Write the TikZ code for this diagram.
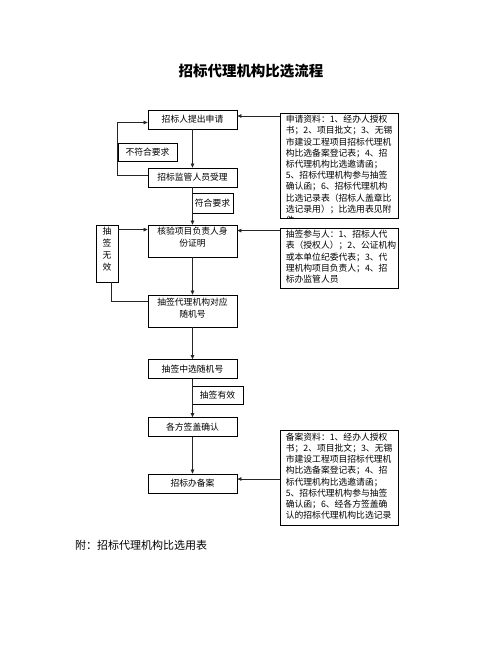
\documentclass[tikz,border=0pt]{standalone}
\usepackage{fontspec}
\setmainfont{Noto Sans CJK SC}
\usetikzlibrary{arrows.meta}
\tikzset{
  cbox/.style={draw=black, line width=0.8pt, minimum width=89pt, minimum height=19pt, inner sep=0pt, font=\fontsize{8.8}{11}\selectfont},
  lbox/.style={draw=black, line width=0.8pt, inner sep=0pt, font=\fontsize{8.8}{11}\selectfont},
  rbox/.style={draw=black, line width=0.8pt, minimum width=118pt, inner sep=0pt},
  rtext/.style={anchor=north west, inner sep=0pt, align=left, font=\fontsize{8.8}{11.2}\selectfont},
  ctext/.style={anchor=north, inner sep=0pt, align=center, font=\fontsize{8.8}{12}\selectfont},
  conn/.style={draw=black!85, line width=0.75pt},
  arr/.style={conn, -{Triangle[length=4pt,width=3.6pt]}}
}
\begin{document}
\begin{tikzpicture}[x=1pt,y=-1pt]
\useasboundingbox (0,0) rectangle (502,649);
\fill[white] (0,0) rectangle (502,649);

\node[font=\fontsize{14.5}{16}\selectfont\bfseries] (title) at (251,71) {招标代理机构比选流程};

% centre flow boxes
\node[cbox] (a1) at (192.5,119.5) {招标人提出申请};
\node[cbox] (a2) at (192.5,177.5) {招标监管人员受理};
\node[cbox, minimum height=32pt] (a3) at (192.5,241) {};
\node[ctext] (a3t) at ([yshift=-2.5pt]a3.north) {核验项目负责人身\\份证明};
\node[cbox, minimum height=32pt] (a4) at (192.5,311) {};
\node[ctext] (a4t) at ([yshift=-3.5pt]a4.north) {抽签代理机构对应\\随机号};
\node[cbox] (a5) at (192.5,369) {抽签中选随机号};
\node[cbox] (a6) at (192.5,427) {各方签盖确认};
\node[cbox] (a7) at (192.5,483.5) {招标办备案};

% label boxes
\node[lbox, minimum width=59pt, minimum height=18pt] (l1) at (147.5,152) {不符合要求};
\node[lbox, minimum width=41pt, minimum height=20pt] (l2) at (212.5,203) {符合要求};
\node[lbox, minimum width=51pt, minimum height=18pt] (l3) at (217.5,395) {抽签有效};
\node[lbox, minimum width=22pt, minimum height=57pt] (l4) at (107,253.5) {};
\node[ctext] (l4t) at ([yshift=-2pt]l4.north) {抽\\签\\无\\效};

% right info boxes
\node[rbox, minimum height=105pt] (r1) at (339,165.5) {};
\begin{scope}
\clip (r1.north west) rectangle (r1.south east);
\node[rtext] (r1t) at ([xshift=6pt,yshift=-2.5pt]r1.north west) {申请资料：1、经办人授权\\书；2、项目批文；3、无锡\\市建设工程项目招标代理机\\构比选备案登记表；4、招\\标代理机构比选邀请函；\\5、招标代理机构参与抽签\\确认函；6、招标代理机构\\比选记录表（招标人盖章比\\选记录用）；比选用表见附\\件};
\end{scope}
\node[rbox, minimum height=60pt] (r2) at (339,258) {};
\node[rtext] (r2t) at ([xshift=6pt,yshift=-2.5pt]r2.north west) {抽签参与人：1、招标人代\\表（授权人）；2、公证机构\\或本单位纪委代表；3、代\\理机构项目负责人；4、招\\标办监管人员};
\node[rbox, minimum height=95pt] (r3) at (339,477.5) {};
\begin{scope}
\clip (r3.north west) rectangle (r3.south east);
\node[rtext] (r3t) at ([xshift=6pt,yshift=-3pt]r3.north west) {备案资料：1、经办人授权\\书；2、项目批文；3、无锡\\市建设工程项目招标代理机\\构比选备案登记表；4、招\\标代理机构比选邀请函；\\5、招标代理机构参与抽签\\确认函；6、经各方签盖确\\认的招标代理机构比选记录};
\end{scope}

% footer
\node[anchor=west, inner sep=0pt, font=\fontsize{11}{13}\selectfont] (foot) at (75,545) {附：招标代理机构比选用表};

% main vertical flow
\draw[arr] (a1) -- (a2);
\draw[arr] (a2) -- (a3);
\draw[arr] (a3) -- (a4);
\draw[arr] (a4) -- (a5);
\draw[arr] (a5) -- (a6);
\draw[arr] (a6) -- (a7);

% reject loop
\draw[arr] ([yshift=2.5pt]a2.west) -- ([yshift=2.5pt]a2.west -| l1.west) -- ([yshift=-3pt]a1.west -| l1.west) -- ([yshift=-3pt]a1.west);

% right boxes to centre
\draw[arr] ([yshift=3.5pt]a1.east -| r1.west) -- ([yshift=3.5pt]a1.east);
\draw[arr] ([yshift=-6pt]a3.north east -| r2.west) -- ([yshift=-6pt]a3.north east);
\draw[arr] ([yshift=4.5pt]a7.east -| r3.west) -- ([yshift=4.5pt]a7.east);

% invalid draw
\draw[arr] ([yshift=-5pt]l4.north east) -- ([yshift=-5pt]l4.north east -| a3.west);
\draw[conn] ([xshift=4pt]l4.south) -- ([xshift=4pt,yshift=-7pt]l4.south |- a4.north) -- ([yshift=-7pt]a4.north west);
\end{tikzpicture}
\end{document}
